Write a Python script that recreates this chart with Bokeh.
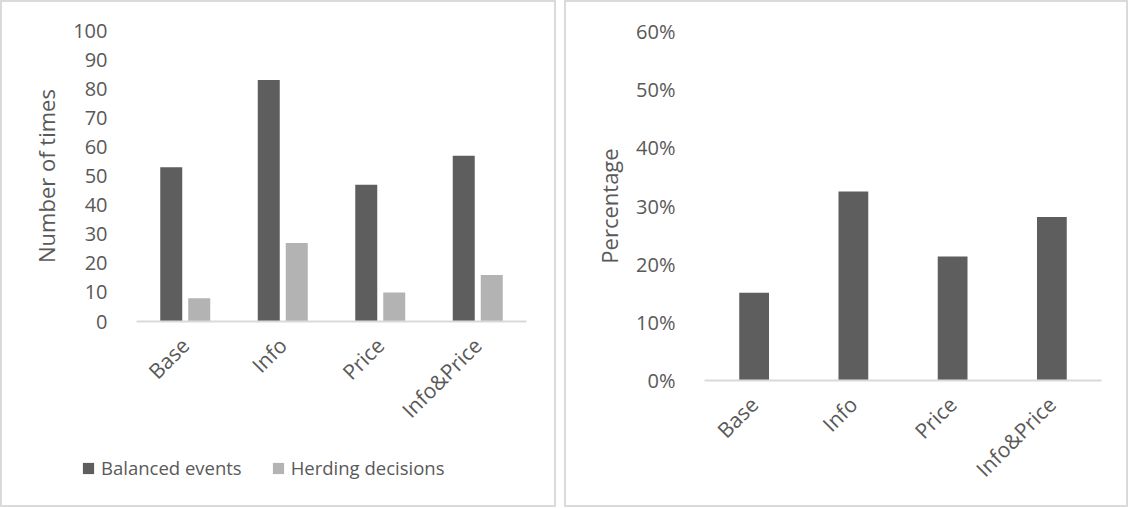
import math
from bokeh.plotting import figure
from bokeh.models import (Range1d, FactorRange, FixedTicker, PrintfTickFormatter,
                          Legend, LegendItem, ColumnDataSource)
from bokeh.transform import dodge
from bokeh.embed import file_html
from bokeh.resources import INLINE

# ---- data ----
categories = ["Base", "Info", "Price", "Info&Price"]
balanced_events = [53, 83, 47, 57]
herding_decisions = [8, 27, 10, 16]
herding_percentage = [15.1, 32.5, 21.3, 28.1]
count_ticks = [0, 10, 20, 30, 40, 50, 60, 70, 80, 90, 100]
pct_ticks = [0, 10, 20, 30, 40, 50, 60]
series_names = ["Balanced events", "Herding decisions"]

FONT = "Open Sans"
TEXT = "#595959"
DARK = "#5e5e5e"
LIGHT = "#b3b3b3"
AXIS = "#d9d9d9"


def panel_styles(left, top=0, border=True):
    s = {"position": "absolute", "left": f"{left}px", "top": f"{top}px"}
    if border:
        s.update({"border": "2px solid #dadada", "box-sizing": "border-box"})
    return s


def style(p):
    p.xgrid.visible = False
    p.ygrid.visible = False
    p.outline_line_color = None
    p.background_fill_color = "white"
    p.border_fill_color = "white"
    xa, ya = p.xaxis[0], p.yaxis[0]
    xa.axis_line_color = AXIS
    xa.axis_line_width = 2
    xa.major_tick_line_color = None
    xa.minor_tick_line_color = None
    xa.major_label_orientation = math.pi / 4
    xa.major_label_text_font = FONT
    xa.major_label_text_font_size = "21px"
    xa.major_label_text_color = TEXT
    xa.major_label_standoff = 14
    ya.axis_line_color = None
    ya.major_tick_line_color = None
    ya.minor_tick_line_color = None
    ya.major_label_text_font = FONT
    ya.major_label_text_font_size = "20px"
    ya.major_label_text_color = TEXT
    ya.major_label_standoff = 23
    ya.axis_label_text_font = FONT
    ya.axis_label_text_font_size = "22px"
    ya.axis_label_text_font_style = "normal"
    ya.axis_label_text_color = TEXT
    ya.axis_label_standoff = 9


src = ColumnDataSource(dict(cat=categories, bal=balanced_events,
                            herd=herding_decisions, pct=herding_percentage))

# ---- left panel ----
p1 = figure(x_range=FactorRange(*categories), y_range=Range1d(0, 100),
            width=556, height=507, output_backend="svg", toolbar_location=None,
            min_border_left=134, min_border_right=32, min_border_top=28,
            min_border_bottom=188)
p1.vbar(x=dodge("cat", -0.1436, range=p1.x_range), top="bal", width=0.2256,
        source=src, fill_color=DARK, line_color=None)
p1.vbar(x=dodge("cat", 0.1436, range=p1.x_range), top="herd", width=0.2256,
        source=src, fill_color=LIGHT, line_color=None)
style(p1)
p1.yaxis[0].ticker = FixedTicker(ticks=count_ticks)
p1.yaxis[0].axis_label = "Number of times"
p1.styles = panel_styles(0)

# ---- legend of the left panel (own small canvas; its bars lie far outside its view) ----
p3 = figure(x_range=FactorRange(*categories), y_range=Range1d(1000, 1010),
            width=420, height=30, output_backend="svg", toolbar_location=None,
            x_axis_location=None, y_axis_location=None,
            min_border=0, min_border_left=0, min_border_right=0,
            min_border_top=0, min_border_bottom=0)
p3.xgrid.visible = False
p3.ygrid.visible = False
p3.outline_line_color = None
p3.background_fill_alpha = 0
p3.border_fill_alpha = 0
lr1 = p3.vbar(x="cat", top="bal", width=0.2, source=src, fill_color=DARK, line_color=None)
lr2 = p3.vbar(x="cat", top="herd", width=0.2, source=src, fill_color=LIGHT, line_color=None)
legend = Legend(items=[LegendItem(label=series_names[0], renderers=[lr1]),
                       LegendItem(label=series_names[1], renderers=[lr2])],
                orientation="horizontal", location="top_left", margin=0, padding=0,
                glyph_width=14, glyph_height=14, label_height=14, label_standoff=6,
                spacing=29, label_text_font=FONT, label_text_font_size="18.5px",
                label_text_color=TEXT, border_line_color=None,
                background_fill_alpha=0)
p3.add_layout(legend)
p3.styles = panel_styles(81, 455, border=False)

# ---- right panel ----
p2 = figure(x_range=FactorRange(*categories), y_range=Range1d(0, 60),
            width=564, height=507, output_backend="svg", toolbar_location=None,
            min_border_left=138, min_border_right=29, min_border_top=29,
            min_border_bottom=129)
p2.vbar(x="cat", top="pct", width=0.30, source=src, fill_color=DARK, line_color=None)
style(p2)
p2.yaxis[0].ticker = FixedTicker(ticks=pct_ticks)
p2.yaxis[0].formatter = PrintfTickFormatter(format="%d%%")
p2.yaxis[0].axis_label = "Percentage"
p2.styles = panel_styles(564)

with open("out.html", "w") as f:
    f.write(file_html([p1, p2, p3], INLINE))
